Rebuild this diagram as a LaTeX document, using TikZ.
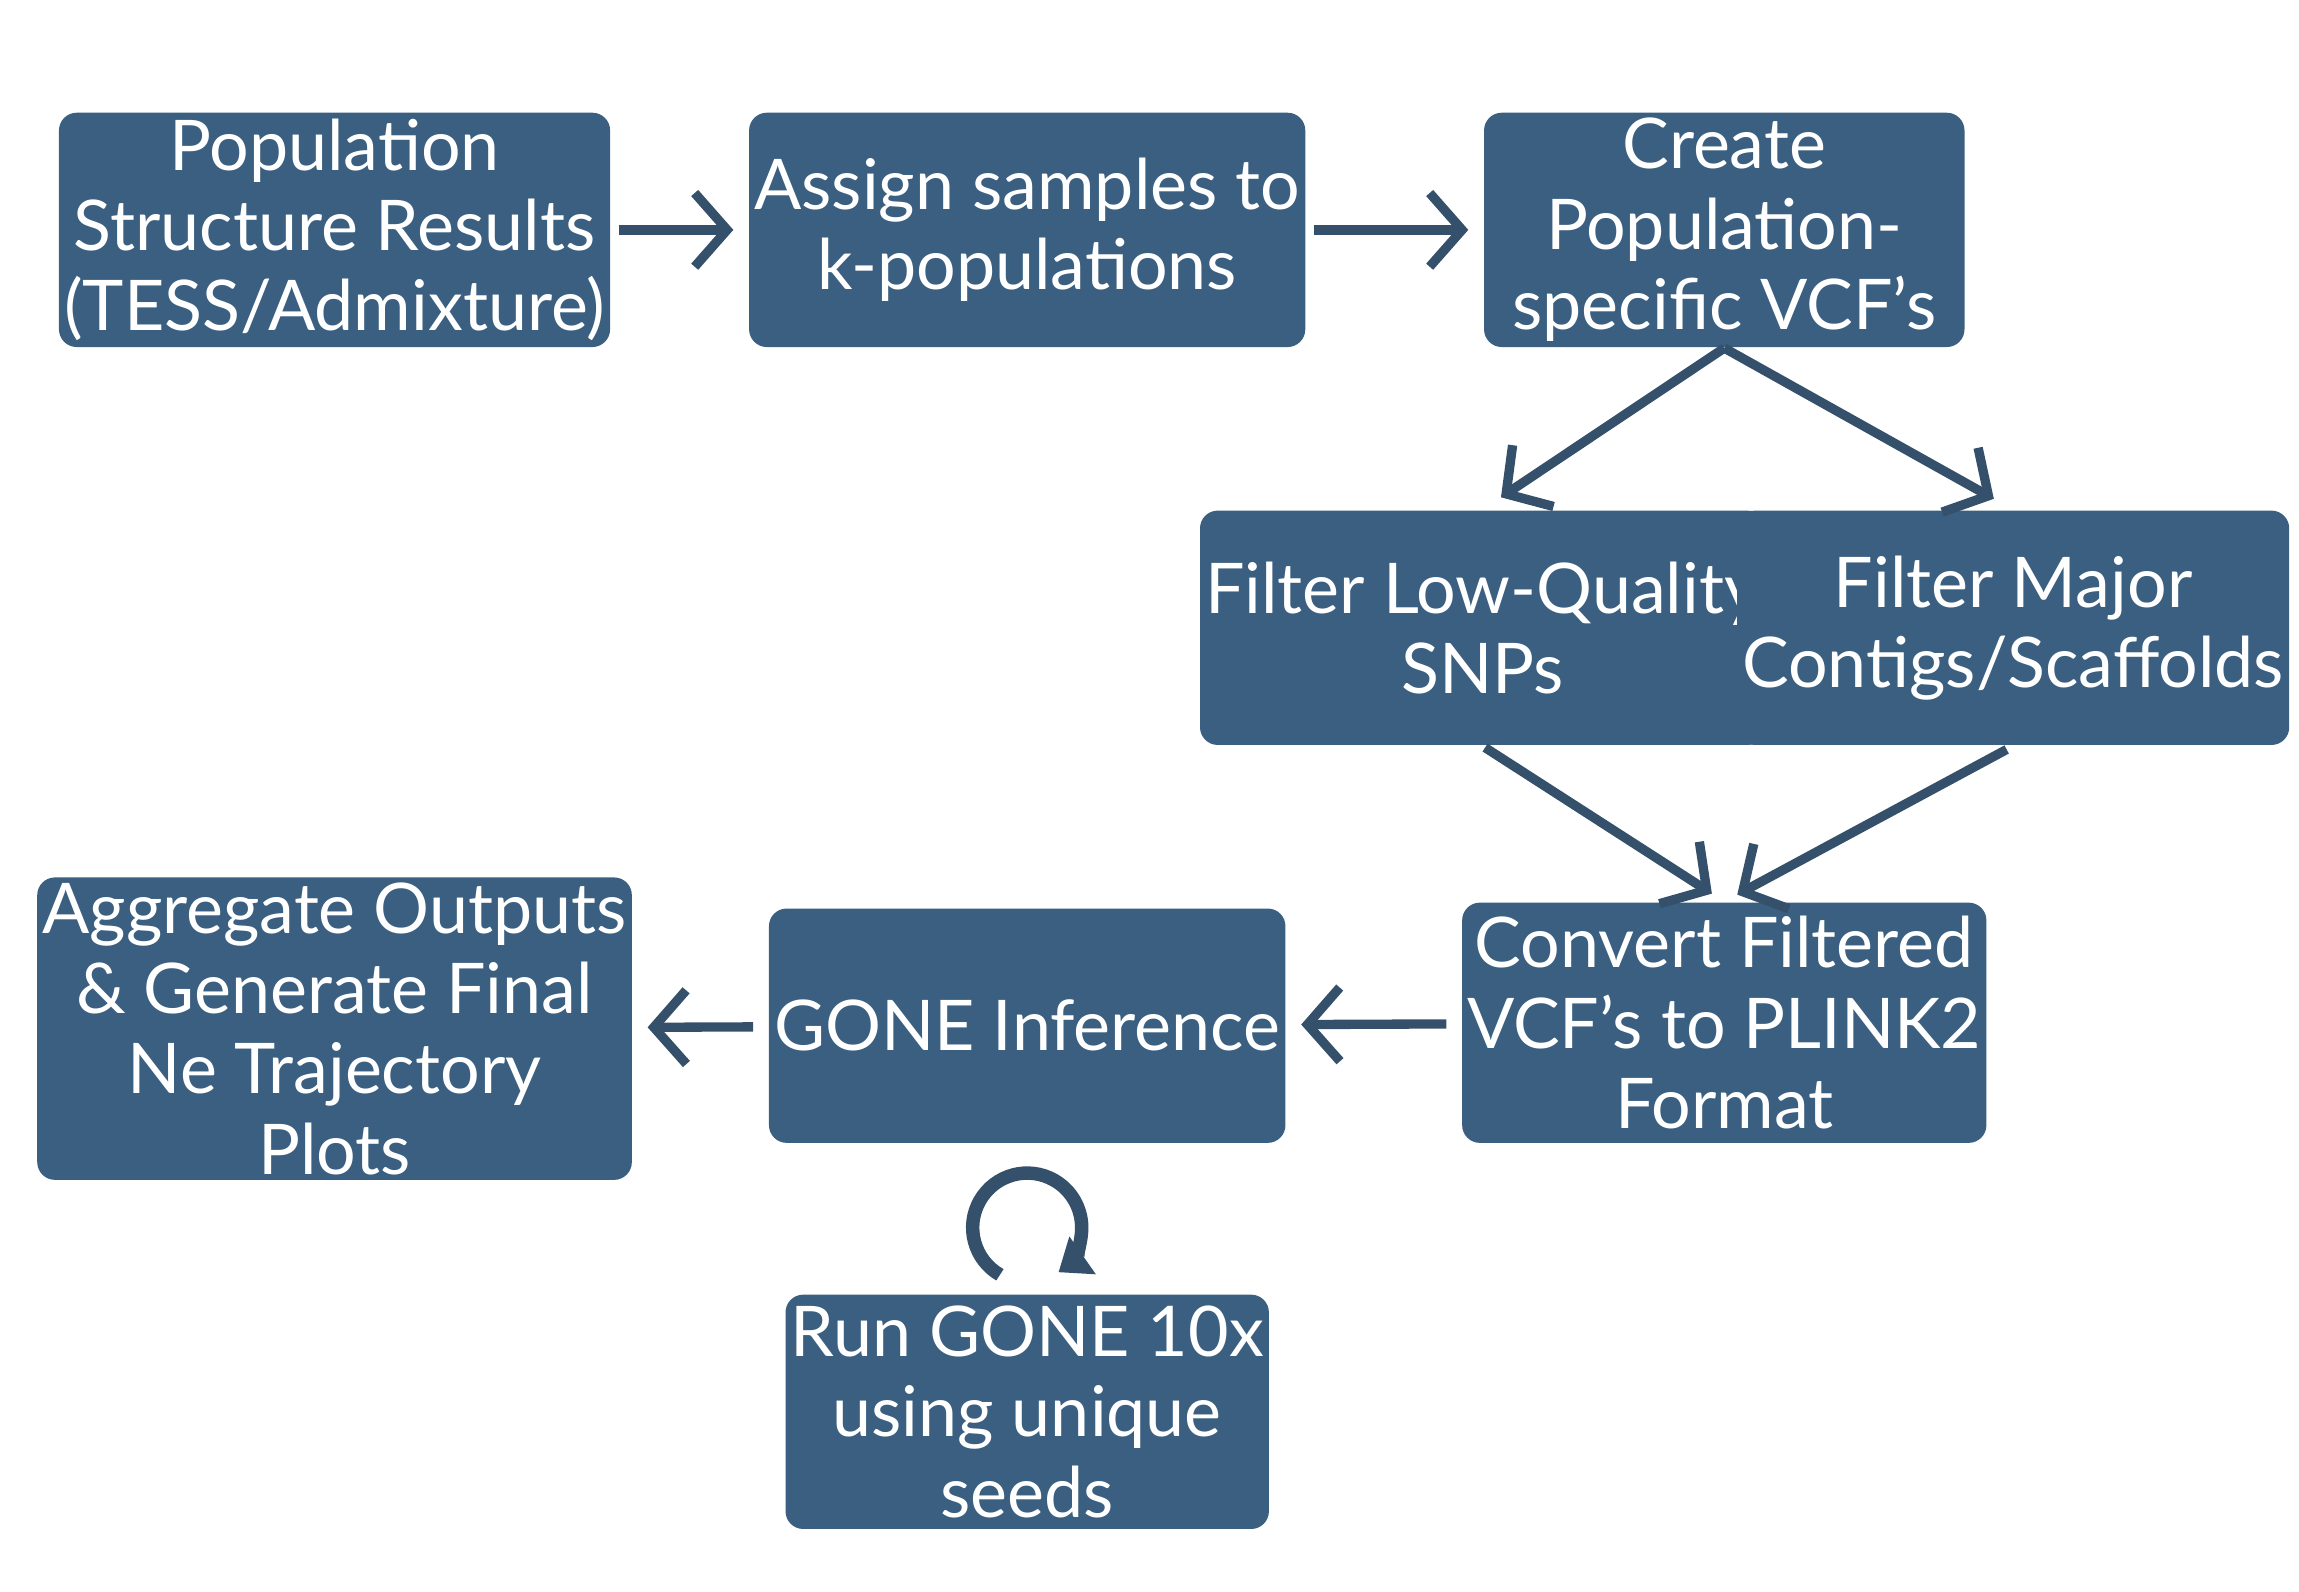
\documentclass[tikz,border=0pt]{standalone}
\usepackage{fontspec}
\setmainfont{Lato}
\usetikzlibrary{arrows.meta}
\definecolor{boxblue}{HTML}{3A5F80}
\definecolor{arrowblue}{HTML}{34506B}
\begin{document}
\begin{tikzpicture}[font=\fontsize{13.5}{15.5}\selectfont,
  stage/.style={rectangle,rounded corners=0.12cm,fill=boxblue,text=white,align=center,minimum width=3.28cm,minimum height=1.59cm,inner sep=1pt},
  flow/.style={arrowblue,line width=1.8pt,-{Straight Barb[length=0.22cm,width=0.5cm,line width=1.8pt]}}]
\useasboundingbox (0,0) rectangle (15.6,10.8);
%Nodes
\node at (2.27,9.24) [stage] (Struct) {Population\\Structure Results\\(TESS/Admixture)};
\node at (6.97,9.24) [stage] (Assign) {Assign samples to\\k-populations};
\node at (11.70,9.24) [stage,minimum width=3.26cm] (Create) {Create\\Population-\\specific VCF's};
\node at (10.06,6.54) [stage,minimum width=3.27cm] (LowQual) {Filter Low-Quality\\SNPs};
\node at (13.66,6.54) [stage,minimum width=3.27cm] (Major) {Filter Major\\Contigs/Scaffolds};
\node at (11.70,3.86) [stage,minimum width=3.26cm,minimum height=1.63cm] (Convert) {Convert Filtered\\VCF's to PLINK2\\Format};
\node at (6.97,3.84) [stage] (Gone) {GONE Inference};
\node at (2.27,3.82) [stage,minimum height=1.96cm] (Aggregate) {Aggregate Outputs\\\& Generate Final\\Ne Trajectory\\Plots};
\node at (6.97,1.22) [stage] (Runs) {Run GONE 10x\\using unique\\seeds};
%Connections
\draw [flow,shorten <=0.05cm,shorten >=0.1cm] (Struct) -- (Assign);
\draw [flow,shorten <=0.05cm,shorten >=0.1cm] (Assign) -- (Create);
\draw [flow,shorten >=0.15cm] (Create.south) -- (LowQual.north);
\draw [flow,shorten >=0.15cm] (Create.south) -- (Major.north);
\draw [flow,shorten <=0.02cm,shorten >=0.1cm] (LowQual.south) -- (Convert.north);
\draw [flow,shorten <=0.05cm,shorten >=0.1cm] (Major.south) -- (Convert.north);
\draw [flow,shorten <=0.1cm,shorten >=0.1cm] (Convert) -- (Gone);
\draw [flow,shorten <=0.1cm,shorten >=0.1cm] (Gone) -- (Aggregate);
% Repeat loop
\coordinate (Loop) at (6.97,2.47);
\draw [arrowblue,line width=2.6pt,-{Triangle[length=0.2cm,width=0.3cm]}] (Loop) ++(240:0.37) arc[start angle=240,end angle=-55,radius=0.37];
\end{tikzpicture}
\end{document}
